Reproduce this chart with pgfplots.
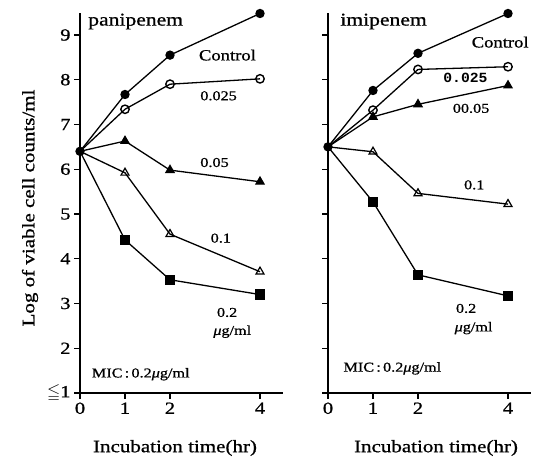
\documentclass[border=0pt]{standalone}
\usepackage{amssymb}
\usepackage{fontspec}
\setmainfont{Liberation Serif}[FakeStretch=1.2, FakeBold=0.9]
\newfontfamily\monof{Liberation Mono}[FakeStretch=1.05]
\usepackage{pgfplots}
\pgfplotsset{compat=1.18}

% time-kill curves, log viable counts
\tikzset{lbl/.style={anchor=west, inner sep=0pt, font=\fontsize{13.5}{14}\selectfont}}
\pgfplotsset{
  panel/.style={
    scale only axis, width=202.5pt, height=380.4pt,
    xmin=0, xmax=4.5, ymin=1, ymax=9.5,
    axis lines=left, axis line style={-, line width=1.4pt},
    tick align=outside, major tick length=6pt,
    tick style={line width=1.2pt, black},
    xtick={0,1,2,4}, ytick={1,2,...,9},
    tick label style={font=\fontsize{17}{17}\selectfont},
    /pgf/number format/assume math mode=true,
    clip=false,
    every axis plot/.append style={black, line width=1.3pt},
  },
  ctrl/.style={mark=*, mark size=4pt},
  c025/.style={mark=o, mark size=4.2pt, mark indices={2,3,4}, mark options={fill=white, line width=1.4pt}},
  c05/.style={mark=triangle*, mark size=4.6pt, mark indices={2,3,4}},
  c1/.style={mark=triangle, mark size=4.6pt, mark indices={2,3,4}, mark options={fill=white, line width=1.2pt}},
  c2/.style={mark=square*, mark size=4.5pt, mark indices={2,3,4}},
}

\begin{document}
\begin{tikzpicture}
\path[use as bounding box] (0,0) rectangle (538pt,457pt);

% panipenem
\begin{axis}[panel, at={(80pt,64pt)}, anchor=south west,
  yticklabels={{$\leqq$1},2,3,4,5,6,7,8,9}]
  \addplot[c2]   coordinates {(0,6.4) (1,4.42) (2,3.53) (4,3.20)};
  \addplot[c1]   coordinates {(0,6.4) (1,5.92) (2,4.55) (4,3.71)};
  \addplot[c05]  coordinates {(0,6.4) (1,6.63) (2,5.98) (4,5.72)};
  \addplot[c025] coordinates {(0,6.4) (1,7.34) (2,7.90) (4,8.02)};
  \addplot[ctrl] coordinates {(0,6.4) (1,7.67) (2,8.55) (4,9.48)};
  \node[lbl, font=\fontsize{18}{18}\selectfont] at (axis cs:0.18,9.3) {panipenem};
  \node[lbl, font=\fontsize{15.5}{16}\selectfont] at (axis cs:2.64,8.55) {Control};
  \node[lbl] at (axis cs:2.67,7.64) {0.025};
  \node[lbl] at (axis cs:2.67,6.15) {0.05};
  \node[lbl] at (axis cs:2.90,4.46) {0.1};
  \node[lbl] at (axis cs:3.04,2.80) {0.2};
  \node[lbl] at (axis cs:2.96,2.37) {{\itshape μ}g/ml};
  \node[lbl] at (axis cs:0.26,1.42) {MIC\,:\,0.2{\itshape μ}g/ml};
\end{axis}

% imipenem
\begin{axis}[panel, at={(328pt,64pt)}, anchor=south west, yticklabels={}]
  \addplot[c2]   coordinates {(0,6.5) (1,5.27) (2,3.64) (4,3.17)};
  \addplot[c1]   coordinates {(0,6.5) (1,6.39) (2,5.46) (4,5.22)};
  \addplot[c05]  coordinates {(0,6.5) (1,7.17) (2,7.45) (4,7.87)};
  \addplot[c025] coordinates {(0,6.5) (1,7.32) (2,8.23) (4,8.29)};
  \addplot[ctrl] coordinates {(0,6.5) (1,7.76) (2,8.59) (4,9.48)};
  \node[lbl, font=\fontsize{18}{18}\selectfont] at (axis cs:0.27,9.3) {imipenem};
  \node[lbl, font=\fontsize{15.5}{16}\selectfont] at (axis cs:3.19,8.84) {Control};
  \node[lbl, font=\fontsize{14}{14}\monof\bfseries] at (axis cs:2.56,8.03) {0.025};
  \node[lbl] at (axis cs:2.77,7.36) {00.05};
  \node[lbl] at (axis cs:3.02,5.65) {0.1};
  \node[lbl] at (axis cs:2.84,2.89) {0.2};
  \node[lbl] at (axis cs:2.81,2.45) {{\itshape μ}g/ml};
  \node[lbl] at (axis cs:0.34,1.55) {MIC\,:\,0.2{\itshape μ}g/ml};
\end{axis}

\node[rotate=90, font=\fontsize{17.5}{17.5}\selectfont] at (30pt,249pt) {Log of viable cell counts/ml};
\node[font=\fontsize{17.5}{17.5}\selectfont] at (175pt,9pt) {Incubation time(hr)};
\node[font=\fontsize{17.5}{17.5}\selectfont] at (436pt,9pt) {Incubation time(hr)};
\end{tikzpicture}
\end{document}
